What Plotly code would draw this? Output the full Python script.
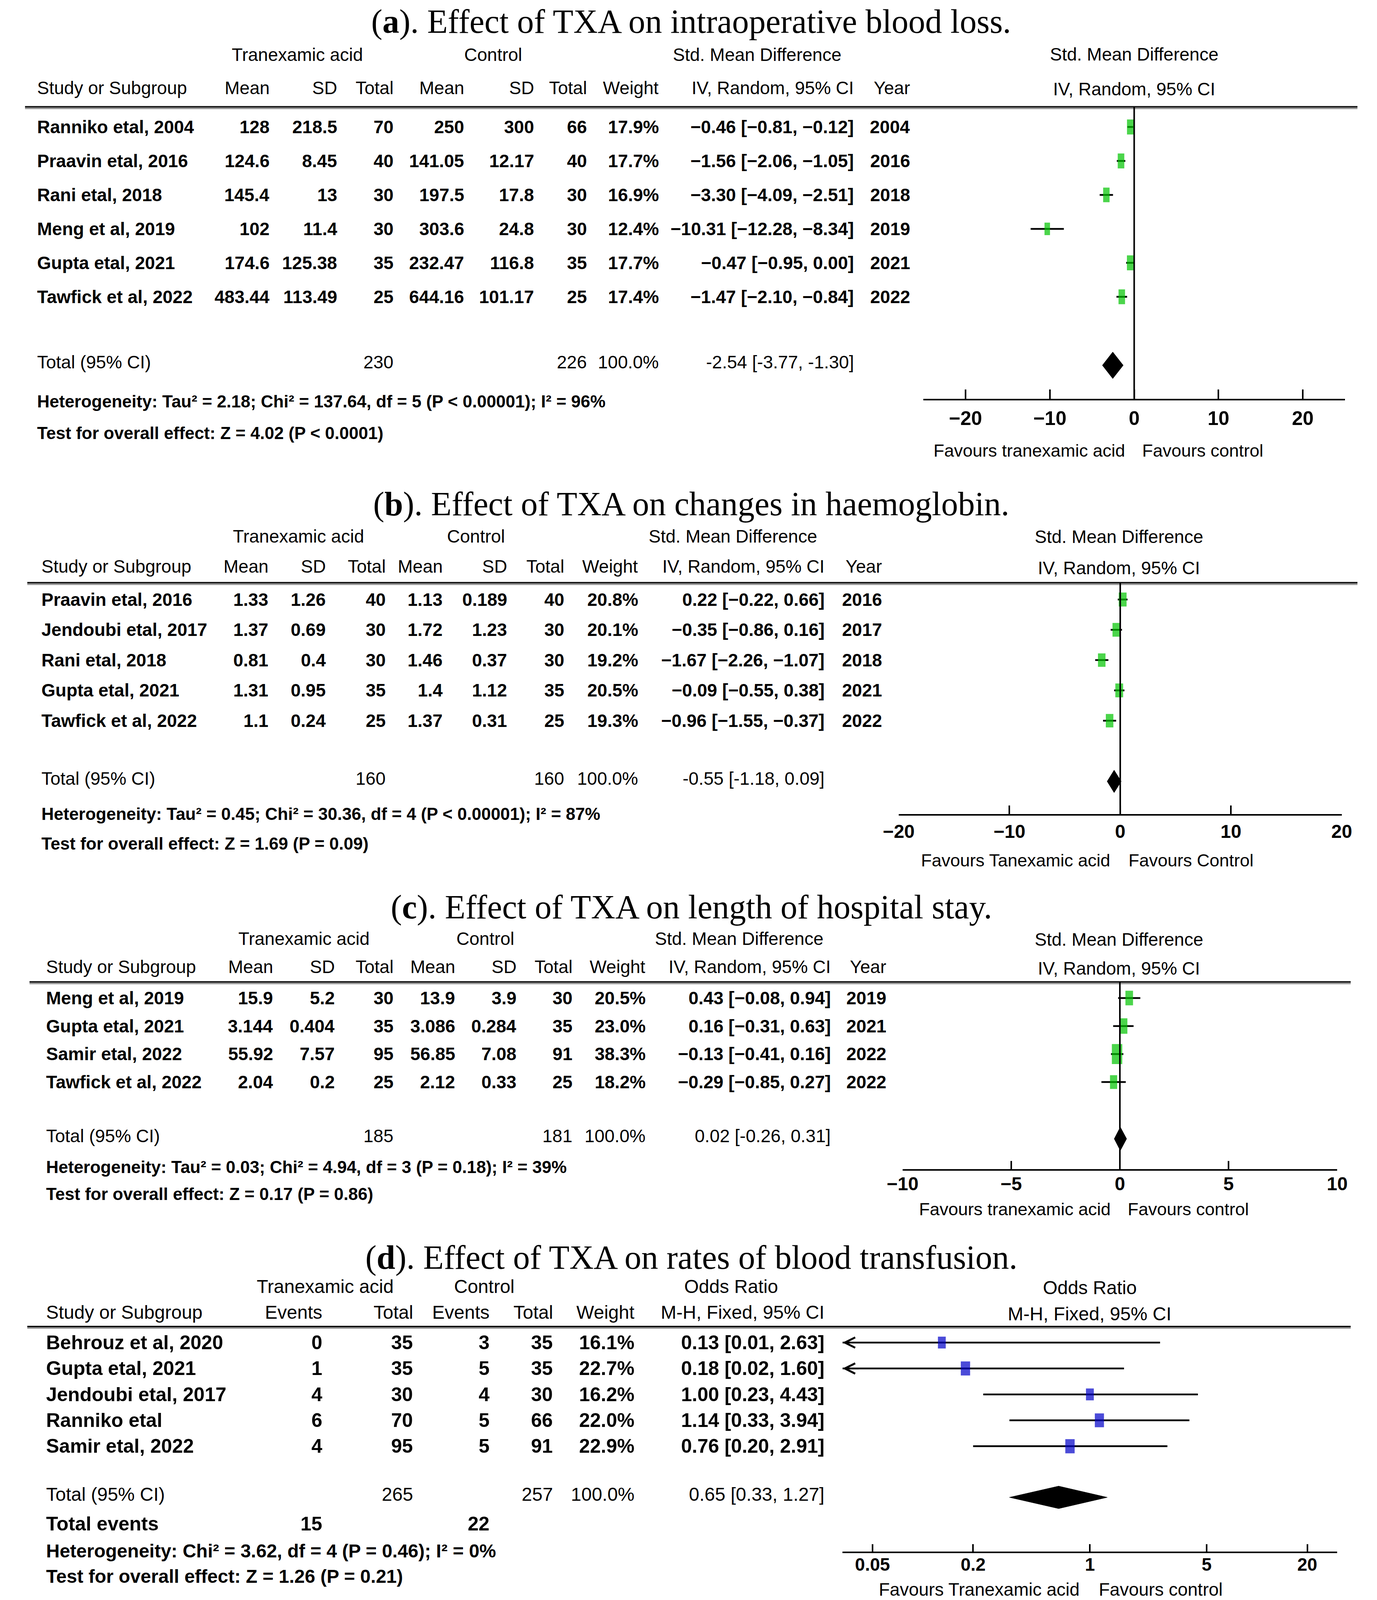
import math
import plotly.graph_objects as go

# ======================= DATA =======================
# (a) intraoperative blood loss
studies_a = ["Ranniko etal, 2004", "Praavin etal, 2016", "Rani etal, 2018",
             "Meng et al, 2019", "Gupta etal, 2021", "Tawfick et al, 2022"]
tx_mean_a = [128, 124.6, 145.4, 102, 174.6, 483.44]
tx_sd_a = [218.5, 8.45, 13, 11.4, 125.38, 113.49]
tx_n_a = [70, 40, 30, 30, 35, 25]
c_mean_a = [250, 141.05, 197.5, 303.6, 232.47, 644.16]
c_sd_a = [300, 12.17, 17.8, 24.8, 116.8, 101.17]
c_n_a = [66, 40, 30, 30, 35, 25]
weight_a = [17.9, 17.7, 16.9, 12.4, 17.7, 17.4]
est_a = [-0.46, -1.56, -3.30, -10.31, -0.47, -1.47]
lo_a = [-0.81, -2.06, -4.09, -12.28, -0.95, -2.10]
hi_a = [-0.12, -1.05, -2.51, -8.34, 0.00, -0.84]
year_a = [2004, 2016, 2018, 2019, 2021, 2022]
total_a = dict(tx_n=230, c_n=226, est=-2.54, lo=-3.77, hi=-1.30)
het_a = "Heterogeneity: Tau² = 2.18; Chi² = 137.64, df = 5 (P < 0.00001); I² = 96%"
test_a = "Test for overall effect: Z = 4.02 (P < 0.0001)"

# (b) haemoglobin
studies_b = ["Praavin etal, 2016", "Jendoubi etal, 2017", "Rani etal, 2018",
             "Gupta etal, 2021", "Tawfick et al, 2022"]
tx_mean_b = [1.33, 1.37, 0.81, 1.31, 1.1]
tx_sd_b = [1.26, 0.69, 0.4, 0.95, 0.24]
tx_n_b = [40, 30, 30, 35, 25]
c_mean_b = [1.13, 1.72, 1.46, 1.4, 1.37]
c_sd_b = [0.189, 1.23, 0.37, 1.12, 0.31]
c_n_b = [40, 30, 30, 35, 25]
weight_b = [20.8, 20.1, 19.2, 20.5, 19.3]
est_b = [0.22, -0.35, -1.67, -0.09, -0.96]
lo_b = [-0.22, -0.86, -2.26, -0.55, -1.55]
hi_b = [0.66, 0.16, -1.07, 0.38, -0.37]
year_b = [2016, 2017, 2018, 2021, 2022]
total_b = dict(tx_n=160, c_n=160, est=-0.55, lo=-1.18, hi=0.09)
het_b = "Heterogeneity: Tau² = 0.45; Chi² = 30.36, df = 4 (P < 0.00001); I² = 87%"
test_b = "Test for overall effect: Z = 1.69 (P = 0.09)"

# (c) length of hospital stay
studies_c = ["Meng et al, 2019", "Gupta etal, 2021", "Samir etal, 2022", "Tawfick et al, 2022"]
tx_mean_c = [15.9, 3.144, 55.92, 2.04]
tx_sd_c = [5.2, 0.404, 7.57, 0.2]
tx_n_c = [30, 35, 95, 25]
c_mean_c = [13.9, 3.086, 56.85, 2.12]
c_sd_c = [3.9, 0.284, 7.08, 0.33]
c_n_c = [30, 35, 91, 25]
weight_c = [20.5, 23.0, 38.3, 18.2]
est_c = [0.43, 0.16, -0.13, -0.29]
lo_c = [-0.08, -0.31, -0.41, -0.85]
hi_c = [0.94, 0.63, 0.16, 0.27]
year_c = [2019, 2021, 2022, 2022]
total_c = dict(tx_n=185, c_n=181, est=0.02, lo=-0.26, hi=0.31)
het_c = "Heterogeneity: Tau² = 0.03; Chi² = 4.94, df = 3 (P = 0.18); I² = 39%"
test_c = "Test for overall effect: Z = 0.17 (P = 0.86)"

# (d) blood transfusion
studies_d = ["Behrouz et al, 2020", "Gupta etal, 2021", "Jendoubi etal, 2017",
             "Ranniko etal", "Samir etal, 2022"]
tx_events_d = [0, 1, 4, 6, 4]
tx_n_d = [35, 35, 30, 70, 95]
c_events_d = [3, 5, 4, 5, 5]
c_n_d = [35, 35, 30, 66, 91]
weight_d = [16.1, 22.7, 16.2, 22.0, 22.9]
est_d = [0.13, 0.18, 1.00, 1.14, 0.76]
lo_d = [0.01, 0.02, 0.23, 0.33, 0.20]
hi_d = [2.63, 1.60, 4.43, 3.94, 2.91]
total_d = dict(tx_n=265, c_n=257, est=0.65, lo=0.33, hi=1.27, tx_ev=15, c_ev=22)
het_d = "Heterogeneity: Chi² = 3.62, df = 4 (P = 0.46); I² = 0%"
test_d = "Test for overall effect: Z = 1.26 (P = 0.21)"

# ======================= LAYOUT HELPERS =======================
W, H = 3524, 4599
DW, DH = 1200.0, 1565.0


def px(x):
    return x / DW


def py(y):
    return 1 - y / DH


SANS = "Liberation Sans, Arial, Helvetica, sans-serif"
SERIF = "Liberation Serif, Times New Roman, serif"
GREEN = "#00c400"
BLUE = "#0000c8"

ann = []
shapes = []


def T(text, x, y, size, anchor="left", bold=False, family=SANS):
    if bold:
        text = "<b>" + text + "</b>"
    ann.append(dict(text=text, x=px(x), y=py(y), xref="paper", yref="paper",
                    xanchor=anchor, yanchor="middle", showarrow=False,
                    font=dict(family=family, size=size, color="black")))


def ci_txt(e, l, h, minus="−"):
    return f"{e:.2f} [{l:.2f}, {h:.2f}]".replace("-", minus)


def num(v):
    return str(v).replace("-", "−")


panels = [
    dict(kind="smd", title="(<b>a</b>). Effect of TXA on intraoperative blood loss.", title_y=21,
         studies=studies_a, cols_data=[tx_mean_a, tx_sd_a, tx_n_a, c_mean_a, c_sd_a, c_n_a],
         weight=weight_a, est=est_a, lo=lo_a, hi=hi_a, year=year_a, total=total_a,
         het=het_a, test=test_a,
         grp_y=53.6, hdr_y=86, line_y=104.5, row0=124.2, step=33.22, total_y=354.3,
         het_y=392.5, test_y=423.5, axis_y=390, fav_y=440.6, fav_l=986, fav_r=1000,
         fav_txt=("Favours tranexamic acid", "Favours control"),
         xdom=(806.3, 1180.9), xrange=[-25, 25], xtype="linear",
         tickvals=[-20, -10, 0, 10, 20], ticktext=["−20", "−10", "0", "10", "20"],
         study_x=18, cols=[226, 286, 336, 399, 461, 508, 572, 745, 795],
         grp_x=[250, 424, 658.4], rh_x=993.5, rh_y=(53, 87), line_x=(8, 1192),
         fs=46, hfs=46, het_fs=44, fav_fs=45, tick_fs=50, ticklen=24, standoff=3,
         dia_h=13, box_h=6.5, box_w=4.0, null=0, color=GREEN),
    dict(kind="smd", title="(<b>b</b>). Effect of TXA on changes in haemoglobin.", title_y=493,
         studies=studies_b, cols_data=[tx_mean_b, tx_sd_b, tx_n_b, c_mean_b, c_sd_b, c_n_b],
         weight=weight_b, est=est_b, lo=lo_b, hi=hi_b, year=year_b, total=total_b,
         het=het_b, test=test_b,
         grp_y=524.6, hdr_y=554, line_y=570, row0=586.4, step=29.63, total_y=761.3,
         het_y=796, test_y=825, axis_y=796.4, fav_y=841.7, fav_l=973, fav_r=987.8,
         fav_txt=("Favours Tanexamic acid", "Favours Control"),
         xdom=(784.4, 1178), xrange=[-20, 20], xtype="linear",
         tickvals=[-20, -10, 0, 10, 20], ticktext=["−20", "−10", "0", "10", "20"],
         study_x=22, cols=[225, 276, 329, 380, 437, 488, 553.5, 719, 770],
         grp_x=[251, 408.6, 637], rh_x=980, rh_y=(525, 555.6), line_x=(10, 1192),
         fs=46, hfs=46, het_fs=44, fav_fs=45, tick_fs=48, ticklen=22, standoff=-1,
         dia_h=11, box_h=5.6, box_w=4.4, null=0, color=GREEN),
    dict(kind="smd", title="(<b>c</b>). Effect of TXA on length of hospital stay.", title_y=887,
         studies=studies_c, cols_data=[tx_mean_c, tx_sd_c, tx_n_c, c_mean_c, c_sd_c, c_n_c],
         weight=weight_c, est=est_c, lo=lo_c, hi=hi_c, year=year_c, total=total_c,
         het=het_c, test=test_c,
         grp_y=918, hdr_y=945.6, line_y=960.5, row0=976.2, step=27.4, total_y=1110.9,
         het_y=1141.5, test_y=1168, axis_y=1143.4, fav_y=1182.7, fav_l=973.2, fav_r=987,
         fav_txt=("Favours tranexamic acid", "Favours control"),
         xdom=(787.8, 1174), xrange=[-10, 10], xtype="linear",
         tickvals=[-10, -5, 0, 5, 10], ticktext=["−10", "−5", "0", "5", "10"],
         study_x=26, cols=[229, 284, 336, 391, 445.6, 495, 560, 724.5, 774],
         grp_x=[256, 417, 642.7], rh_x=980, rh_y=(918.8, 947.1), line_x=(12, 1186),
         fs=46, hfs=46, het_fs=44, fav_fs=45, tick_fs=48, ticklen=21, standoff=-7,
         dia_h=11.5, box_h=5.9, box_w=4.3, null=0, color=GREEN),
    dict(kind="or", title="(<b>d</b>). Effect of TXA on rates of blood transfusion.", title_y=1230,
         studies=studies_d, cols_data=[tx_events_d, tx_n_d, c_events_d, c_n_d],
         weight=weight_d, est=est_d, lo=lo_d, hi=hi_d, year=None, total=total_d,
         het=het_d, test=test_d,
         grp_y=1258.5, hdr_y=1283.5, line_y=1297.5, row0=1313.2, step=25.35, total_y=1461.6,
         events_y=1490.4, het_y=1516.9, test_y=1542, axis_y=1517.6, fav_y=1554.6,
         fav_l=945.8, fav_r=961.4,
         fav_txt=("Favours Tranexamic acid", "Favours control"),
         xdom=(734.5, 1174), xrange=[-1.48, 1.48], xtype="log",
         tickvals=[0.05, 0.2, 1, 5, 20], ticktext=["0.05", "0.2", "1", "5", "20"],
         study_x=26, cols=[273, 353.6, 421.4, 477.8, 550.4, 719],
         grp_x=[274.5, 416, 635.4], rh_x=954, rh_y=(1259.7, 1285), line_x=(10, 1186),
         fs=50, hfs=48, het_fs=48, fav_fs=46, tick_fs=46, ticklen=19, standoff=-10,
         dia_h=11, box_h=5.4, box_w=5.0, null=1, color=BLUE),
]

fig = go.Figure()
layout = dict(width=W, height=H, margin=dict(l=0, r=0, t=0, b=0),
              paper_bgcolor="white", plot_bgcolor="rgba(0,0,0,0)", showlegend=False)

for k, P in enumerate(panels, start=1):
    s = "" if k == 1 else str(k)
    xa, ya = "x" + s, "y" + s
    ybot = (P["axis_y"] - P["row0"]) / P["step"]
    ytop = (P["line_y"] - P["row0"]) / P["step"]

    layout["xaxis" + s] = dict(
        domain=[px(P["xdom"][0]), px(P["xdom"][1])], anchor=ya, range=P["xrange"],
        type=P["xtype"], showline=True, linecolor="black", linewidth=4,
        ticks="inside", ticklen=P["ticklen"], tickwidth=4, tickcolor="black",
        tickvals=P["tickvals"], ticktext=["<b>" + t + "</b>" for t in P["ticktext"]],
        tickfont=dict(family=SANS, size=P["tick_fs"], color="black"),
        ticklabelstandoff=P["standoff"], showgrid=False, zeroline=False, fixedrange=True)
    layout["yaxis" + s] = dict(
        domain=[py(P["axis_y"]), py(P["line_y"])], anchor=xa, range=[ybot, ytop],
        visible=False, fixedrange=True)

    # ---- title ----
    T(P["title"], 600, P["title_y"], 86, anchor="center", family=SERIF)

    # ---- header rule (double line) ----
    y0 = py(P["line_y"])
    shapes.append(dict(type="line", xref="paper", yref="paper", x0=px(P["line_x"][0]),
                       x1=px(P["line_x"][1]), y0=y0, y1=y0, line=dict(color="#111", width=4)))
    y1 = py(P["line_y"] + 1.6)
    shapes.append(dict(type="line", xref="paper", yref="paper", x0=px(P["line_x"][0]),
                       x1=px(P["line_x"][1]), y0=y1, y1=y1, line=dict(color="#8a8a8a", width=3)))

    # ---- null line ----
    nx = math.log10(P["null"]) if P["xtype"] == "log" else P["null"]
    shapes.append(dict(type="line", xref=xa, yref=ya + " domain", x0=nx, x1=nx,
                       y0=0, y1=1, line=dict(color="black", width=4)))

    cols = P["cols"]
    hfs, fs = P["hfs"], P["fs"]
    n = len(P["studies"])
    rows_y = [P["row0"] + i * P["step"] for i in range(n)]

    # ---- group headers ----
    if P["kind"] == "smd":
        T("Tranexamic acid", P["grp_x"][0], P["grp_y"], hfs, "center")
        T("Control", P["grp_x"][1], P["grp_y"], hfs, "center")
        T("Std. Mean Difference", P["grp_x"][2], P["grp_y"], hfs, "center")
        T("Std. Mean Difference", P["rh_x"], P["rh_y"][0], hfs, "center")
        T("IV, Random, 95% CI", P["rh_x"], P["rh_y"][1], hfs, "center")
        hdrs = ["Mean", "SD", "Total", "Mean", "SD", "Total", "Weight", "IV, Random, 95% CI", "Year"]
    else:
        T("Tranexamic acid", P["grp_x"][0], P["grp_y"], hfs, "center")
        T("Control", P["grp_x"][1], P["grp_y"], hfs, "center")
        T("Odds Ratio", P["grp_x"][2], P["grp_y"], hfs, "center")
        T("Odds Ratio", P["rh_x"], P["rh_y"][0], hfs, "center")
        T("M-H, Fixed, 95% CI", P["rh_x"], P["rh_y"][1], hfs, "center")
        hdrs = ["Events", "Total", "Events", "Total", "Weight", "M-H, Fixed, 95% CI"]
    T("Study or Subgroup", P["study_x"], P["hdr_y"], hfs)
    for h, cx in zip(hdrs, cols):
        T(h, cx, P["hdr_y"], hfs, "right")

    # ---- study rows ----
    nd = len(P["cols_data"])
    for i in range(n):
        yy = rows_y[i]
        T(P["studies"][i], P["study_x"], yy, fs, bold=True)
        for j in range(nd):
            T(num(P["cols_data"][j][i]), cols[j], yy, fs, "right", bold=True)
        T(f"{P['weight'][i]:.1f}%", cols[nd], yy, fs, "right", bold=True)
        T(ci_txt(P["est"][i], P["lo"][i], P["hi"][i]), cols[nd + 1], yy, fs, "right", bold=True)
        if P["year"] is not None:
            T(str(P["year"][i]), cols[nd + 2], yy, fs, "right", bold=True)

    # ---- total row ----
    tt = P["total"]
    T("Total (95% CI)", P["study_x"], P["total_y"], hfs)
    if P["kind"] == "smd":
        T(str(tt["tx_n"]), cols[2], P["total_y"], hfs, "right")
        T(str(tt["c_n"]), cols[5], P["total_y"], hfs, "right")
    else:
        T(str(tt["tx_n"]), cols[1], P["total_y"], hfs, "right")
        T(str(tt["c_n"]), cols[3], P["total_y"], hfs, "right")
        T("Total events", P["study_x"], P["events_y"], fs, bold=True)
        T(str(tt["tx_ev"]), cols[0], P["events_y"], fs, "right", bold=True)
        T(str(tt["c_ev"]), cols[2], P["events_y"], fs, "right", bold=True)
    T("100.0%", cols[nd], P["total_y"], hfs, "right")
    T(ci_txt(tt["est"], tt["lo"], tt["hi"], minus="-"), cols[nd + 1], P["total_y"], hfs, "right")

    T(P["het"], P["study_x"], P["het_y"], P["het_fs"], bold=True)
    T(P["test"], P["study_x"], P["test_y"], P["het_fs"], bold=True)

    # ---- favours labels ----
    T(P["fav_txt"][0], P["fav_l"], P["fav_y"], P["fav_fs"], "right")
    T(P["fav_txt"][1], P["fav_r"], P["fav_y"], P["fav_fs"], "left")

    # ---- CI lines ----
    lx, ly = [], []
    for i in range(n):
        lx += [P["lo"][i], P["hi"][i], None]
        ly += [i, i, None]
    fig.add_trace(go.Scatter(x=lx, y=ly, mode="lines", line=dict(color="black", width=4.5),
                             xaxis=xa, yaxis=ya, hoverinfo="skip"))

    # arrows where CI exceeds axis
    xmin = P["xrange"][0]
    for i in range(n):
        lo_v = math.log10(P["lo"][i]) if P["xtype"] == "log" else P["lo"][i]
        if lo_v < xmin:
            ann.append(dict(x=xmin, y=i, ax=xmin + 0.1, ay=i, xref=xa, yref=ya,
                            axref=xa, ayref=ya, text="", showarrow=True, arrowhead=5,
                            arrowsize=1.3, arrowwidth=4, arrowcolor="black"))

    # ---- study boxes (vertical bars drawn as thick line symbols) ----
    fig.add_trace(go.Scatter(
        x=P["est"], y=list(range(n)), mode="markers",
        marker=dict(symbol="line-ns", color=P["color"],
                    size=[P["box_h"] * math.sqrt(w) for w in P["weight"]],
                    line=dict(color=P["color"],
                              width=[P["box_w"] * math.sqrt(w) for w in P["weight"]])),
        xaxis=xa, yaxis=ya, hoverinfo="skip"))

    # ---- pooled diamond ----
    tyv = (P["total_y"] + 3 - P["row0"]) / P["step"]
    hh = P["dia_h"] / P["step"]
    fig.add_trace(go.Scatter(
        x=[tt["lo"], tt["est"], tt["hi"], tt["est"], tt["lo"]],
        y=[tyv, tyv - hh, tyv, tyv + hh, tyv], mode="lines", fill="toself",
        fillcolor="black", line=dict(color="black", width=1),
        xaxis=xa, yaxis=ya, hoverinfo="skip"))

layout["annotations"] = ann
layout["shapes"] = shapes
fig.update_layout(**layout)

# fit the figure into the real browser viewport (it can be shorter than requested)
post = """
(function(){
  document.documentElement.style.margin='0';
  document.body.style.margin='0';
  document.body.style.overflow='hidden';
  var gd = document.getElementById('{plot_id}');
  var w = window.innerWidth, h = window.innerHeight;
  var upd = {};
  if (w > 0 && w < %d) { upd.width = w; }
  if (h > 0 && h < %d) { upd.height = h; }
  if (Object.keys(upd).length) { Plotly.relayout(gd, upd); }
})();
""" % (W, H)

fig.write_html("out.html", post_script=post, config={"displayModeBar": False})
